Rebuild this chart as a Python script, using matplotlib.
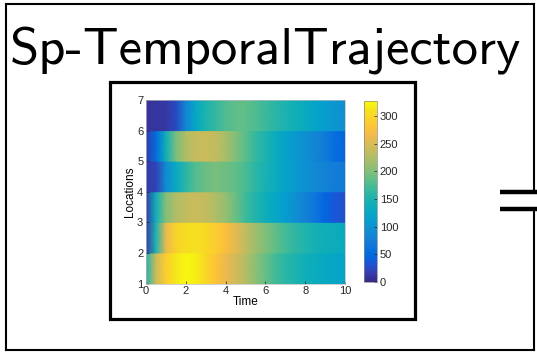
import numpy as np
import matplotlib
matplotlib.use("Agg")
import matplotlib.pyplot as plt
from matplotlib.colors import LinearSegmentedColormap, Normalize
from matplotlib.lines import Line2D
from matplotlib.patches import Rectangle

# ---- data ----
time = np.arange(0, 10.5, 0.5)
locations = [1, 2, 3, 4, 5, 6, 7]
loc_1_2 = [150, 240, 290, 315, 325, 318, 300, 280, 262, 245, 228, 205, 188, 172, 160, 150, 142, 135, 129, 124, 120]
loc_2_3 = [15, 150, 260, 295, 305, 308, 300, 290, 275, 255, 235, 215, 200, 185, 172, 162, 153, 146, 140, 136, 133]
loc_3_4 = [15, 140, 200, 225, 235, 240, 237, 225, 210, 190, 170, 155, 140, 125, 110, 95, 80, 65, 45, 35, 30]
loc_4_5 = [15, 20, 90, 130, 160, 180, 190, 195, 192, 185, 175, 160, 148, 135, 120, 108, 97, 88, 80, 74, 70]
loc_5_6 = [15, 50, 140, 195, 225, 238, 240, 235, 220, 200, 182, 165, 150, 135, 120, 105, 95, 85, 72, 55, 45]
loc_6_7 = [10, 10, 12, 25, 85, 125, 150, 165, 178, 185, 185, 178, 168, 158, 150, 142, 133, 122, 112, 103, 95]
rows = [loc_1_2, loc_2_3, loc_3_4, loc_4_5, loc_5_6, loc_6_7]
cbar_ticks = [0, 50, 100, 150, 200, 250, 300]
vmax = 328

# parula-like colormap (MATLAB default)
parula = LinearSegmentedColormap.from_list("parula", [
    (0.2081, 0.1663, 0.5292), (0.2081, 0.2386, 0.6771), (0.1253, 0.3242, 0.8303),
    (0.0060, 0.4086, 0.8828), (0.0498, 0.4586, 0.8641), (0.0779, 0.5040, 0.8384),
    (0.0641, 0.5570, 0.8240), (0.0265, 0.6137, 0.8135), (0.0228, 0.6535, 0.7768),
    (0.0590, 0.6838, 0.7254), (0.1453, 0.7098, 0.6646), (0.2586, 0.7317, 0.5954),
    (0.3953, 0.7459, 0.5244), (0.5300, 0.7491, 0.4661), (0.6473, 0.7456, 0.4188),
    (0.7525, 0.7384, 0.3768), (0.8507, 0.7299, 0.3360), (0.9450, 0.7261, 0.2886),
    (0.9990, 0.7653, 0.2164), (0.9789, 0.8271, 0.1633), (0.9589, 0.8949, 0.1132),
    (0.9763, 0.9831, 0.0538)])

W, H = 537, 354


def rect(l, t, r, b):
    return [l / W, 1 - b / H, (r - l) / W, (b - t) / H]


def fx(x):
    return x / W


def fy(y):
    return 1 - y / H


fig = plt.figure(figsize=(W / 100, H / 100), dpi=100)

# outer frame with the "=" connector on the right
lw_outer = 1.5
for xs, ys in [([6, 533.5], [4, 4]), ([6, 6], [4, 350]), ([6, 533.5], [350, 350]),
               ([533.5, 533.5], [4, 191]), ([533.5, 533.5], [209, 350])]:
    fig.add_artist(Line2D([fx(v) for v in xs], [fy(v) for v in ys], color="black",
                          lw=lw_outer, transform=fig.transFigure, solid_capstyle="projecting"))
for y in [191.5, 208.5]:
    fig.add_artist(Line2D([fx(500), fx(537)], [fy(y), fy(y)], color="black", lw=3.2,
                          transform=fig.transFigure, solid_capstyle="butt"))

# inner frame
fig.add_artist(Rectangle((fx(110), fy(319)), (415 - 110) / W, (319 - 82) / H,
                         fill=False, ec="black", lw=2.3, transform=fig.transFigure))

fig.text(fx(10), fy(63), "Sp-TemporalTrajectory", family=["cmss10", "DejaVu Sans"],
         fontsize=37.9, ha="left", va="baseline")

# heatmap
ax = fig.add_axes(rect(146, 100, 345, 283.5))
norm = Normalize(vmin=0, vmax=vmax)
for k, row in enumerate(rows):
    z = np.vstack([row, row])
    mesh = ax.pcolormesh(time, [locations[k], locations[k + 1]], z, cmap=parula,
                         norm=norm, shading="gouraud")
ax.set_xlim(0, 10)
ax.set_ylim(1, 7)
ax.set_xticks([0, 2, 4, 6, 8, 10])
ax.set_yticks(locations)
ax.tick_params(direction="in", length=2, width=0.5, labelsize=8, pad=2, colors="#262626")
for s in ax.spines.values():
    s.set_linewidth(0.5)
    s.set_color("#bbbbbb")
ax.set_xlabel("Time", fontsize=8.5, labelpad=0, family="Liberation Sans")
ax.set_ylabel("Locations", fontsize=8.5, labelpad=1, family="Liberation Sans")
for lab in ax.get_xticklabels() + ax.get_yticklabels():
    lab.set_family("Liberation Sans")

cax = fig.add_axes(rect(364, 100.7, 377, 282))
cb = fig.colorbar(plt.cm.ScalarMappable(norm=norm, cmap=parula), cax=cax, ticks=cbar_ticks)
cb.outline.set_linewidth(0.5)
cb.outline.set_edgecolor("#888888")
cax.tick_params(direction="in", length=2, width=0.5, labelsize=8, pad=2, colors="#262626")
for lab in cax.get_yticklabels():
    lab.set_family("Liberation Sans")

fig.savefig("out.png", dpi=100)
